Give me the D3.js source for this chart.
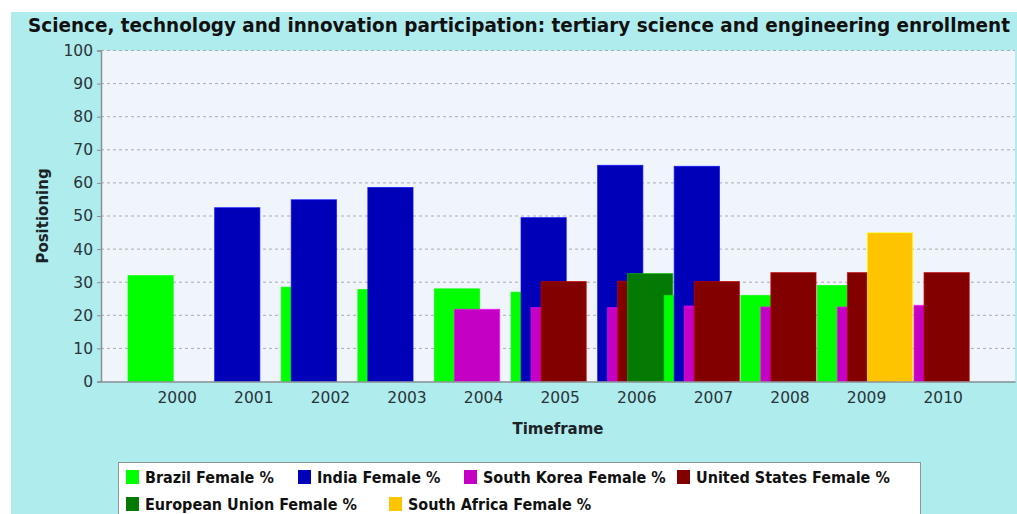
<!DOCTYPE html>
<html>
<head>
<meta charset="utf-8">
<script src="https://cdn.jsdelivr.net/npm/d3@7/dist/d3.min.js"></script>
<style>
  html, body { margin: 0; padding: 0; background: #ffffff; }
  svg { display: block; }
</style>
</head>
<body>
<svg id="chart" width="1017" height="514"></svg>
<script>
// ---- data ----
const title = "Science, technology and innovation participation: tertiary science and engineering enrollment";
const yAxisLabel = "Positioning";
const xAxisLabel = "Timeframe";
const years = [2000, 2001, 2002, 2003, 2004, 2005, 2006, 2007, 2008, 2009, 2010];
const yTicks = [0, 10, 20, 30, 40, 50, 60, 70, 80, 90, 100];
const seriesNames = ["Brazil Female %", "India Female %", "South Korea Female %",
                     "United States Female %", "European Union Female %", "South Africa Female %"];
const seriesColors = ["#00ff00", "#0000b8", "#c400c4", "#830000", "#037a03", "#ffc400"];

const brazilYears = [2000, 2002, 2003, 2004, 2005, 2007, 2008, 2009];
const brazilValues = [32.0, 28.5, 27.8, 28.0, 27.0, 26.0, 26.0, 29.0];
const indiaYears = [2001, 2002, 2003, 2005, 2006, 2007];
const indiaValues = [52.5, 54.9, 58.6, 49.5, 65.3, 65.0];
const koreaYears = [2004, 2005, 2006, 2007, 2008, 2009, 2010];
const koreaValues = [21.8, 22.3, 22.3, 22.8, 22.5, 22.5, 23.0];
const usYears = [2005, 2006, 2007, 2008, 2009, 2010];
const usValues = [30.2, 30.3, 30.2, 32.9, 32.9, 32.9];
const euYears = [2006];
const euValues = [32.6];
const saYears = [2009];
const saValues = [44.9];

const seriesYears = [brazilYears, indiaYears, koreaYears, usYears, euYears, saYears];
const seriesValues = [brazilValues, indiaValues, koreaValues, usValues, euValues, saValues];

// ---- layout ----
const svg = d3.select("#chart");
const W = 1017, H = 514;
const plot = { left: 101, right: 1015, top: 50.5, bottom: 381.5 };

svg.append("rect").attr("x", 0).attr("y", 0).attr("width", W).attr("height", H).attr("fill", "#ffffff");
svg.append("rect").attr("x", 11).attr("y", 12).attr("width", W - 11).attr("height", H - 12).attr("fill", "#afecee");

svg.append("text")
  .attr("x", 28).attr("y", 32)
  .attr("font-family", "'DejaVu Sans Condensed', 'DejaVu Sans', sans-serif")
  .attr("font-weight", "bold").attr("font-size", 20)
  .attr("textLength", 982).attr("lengthAdjust", "spacingAndGlyphs")
  .attr("fill", "#111").text(title);

const x = d3.scaleLinear().domain([1999.012, 2010.944]).range([plot.left, plot.right]);
const y = d3.scaleLinear().domain([0, 100]).range([plot.bottom, plot.top]);

svg.append("rect")
  .attr("x", plot.left).attr("y", plot.top)
  .attr("width", plot.right - plot.left).attr("height", plot.bottom - plot.top)
  .attr("fill", "#f0f4fb");

// gridlines
svg.append("g").selectAll("line").data(yTicks.filter(t => t > 0)).join("line")
  .attr("x1", plot.left).attr("x2", plot.right)
  .attr("y1", d => y(d)).attr("y2", d => y(d))
  .attr("stroke", "#a9adb3").attr("stroke-width", 1).attr("stroke-dasharray", "3,3");

// bars
const barOffset = -0.635, seriesStep = 0.1305, barWidth = 0.59;
const bars = [];
seriesYears.forEach((ys, si) => {
  ys.forEach((yr, k) => {
    bars.push({ si, year: yr, value: seriesValues[si][k], left: yr + barOffset + si * seriesStep });
  });
});
bars.sort((a, b) => a.left - b.left);

svg.append("g").selectAll("rect").data(bars).join("rect")
  .attr("x", d => x(d.left))
  .attr("y", d => y(d.value))
  .attr("width", d => x(d.left + barWidth) - x(d.left))
  .attr("height", d => y(0) - y(d.value))
  .attr("fill", d => seriesColors[d.si])
  .attr("stroke", d => d3.color(seriesColors[d.si]).brighter(1.2).formatHex())
  .attr("stroke-opacity", 0.7)
  .attr("stroke-width", 1);

// y axis
const yAxis = svg.append("g")
  .attr("transform", `translate(${plot.left},0)`)
  .call(d3.axisLeft(y).tickValues(yTicks).tickSize(4).tickPadding(4));
yAxis.select(".domain").attr("stroke", "#8a9095").attr("stroke-width", 1.5);
yAxis.selectAll(".tick line").attr("stroke", "#8a9095");
yAxis.selectAll(".tick text")
  .attr("font-family", "'DejaVu Sans', sans-serif").attr("font-size", 15.5).attr("fill", "#2b3438");

// x axis
const xAxis = svg.append("g")
  .attr("transform", `translate(0,${plot.bottom})`)
  .call(d3.axisBottom(x).tickValues(years).tickFormat(d3.format("d")).tickSize(0).tickPadding(10));
xAxis.select(".domain").attr("stroke", "#8a9095").attr("stroke-width", 1.5);
xAxis.selectAll(".tick text")
  .attr("font-family", "'DejaVu Sans', sans-serif").attr("font-size", 15.5).attr("fill", "#2b3438");

// axis titles
svg.append("text")
  .attr("transform", `translate(48,${(plot.top + plot.bottom) / 2}) rotate(-90)`)
  .attr("text-anchor", "middle")
  .attr("font-family", "'DejaVu Sans', sans-serif").attr("font-weight", "bold").attr("font-size", 15)
  .attr("fill", "#1c2226").text(yAxisLabel);
svg.append("text")
  .attr("x", 558).attr("y", 434).attr("text-anchor", "middle")
  .attr("font-family", "'DejaVu Sans', sans-serif").attr("font-weight", "bold").attr("font-size", 15)
  .attr("fill", "#1c2226").text(xAxisLabel);

// legend
const legendLayout = [
  { col: 126, row: 0 }, { col: 298, row: 0 }, { col: 464, row: 0 }, { col: 677, row: 0 },
  { col: 126, row: 1 }, { col: 389, row: 1 }
];
svg.append("rect")
  .attr("x", 118.5).attr("y", 462.5).attr("width", 802).attr("height", 60)
  .attr("fill", "#ffffff").attr("stroke", "#8d9598").attr("stroke-width", 1);
const lg = svg.append("g").selectAll("g").data(seriesNames).join("g")
  .attr("transform", (d, i) => `translate(${legendLayout[i].col},${470 + legendLayout[i].row * 27})`);
lg.append("rect").attr("x", 0).attr("y", 0).attr("width", 13).attr("height", 14)
  .attr("fill", (d, i) => seriesColors[i]);
lg.append("text").attr("x", 19).attr("y", 13)
  .attr("font-family", "'DejaVu Sans Condensed', 'DejaVu Sans', sans-serif").attr("font-weight", "bold").attr("font-size", 16)
  .attr("fill", "#111").text(d => d);
</script>
</body>
</html>
